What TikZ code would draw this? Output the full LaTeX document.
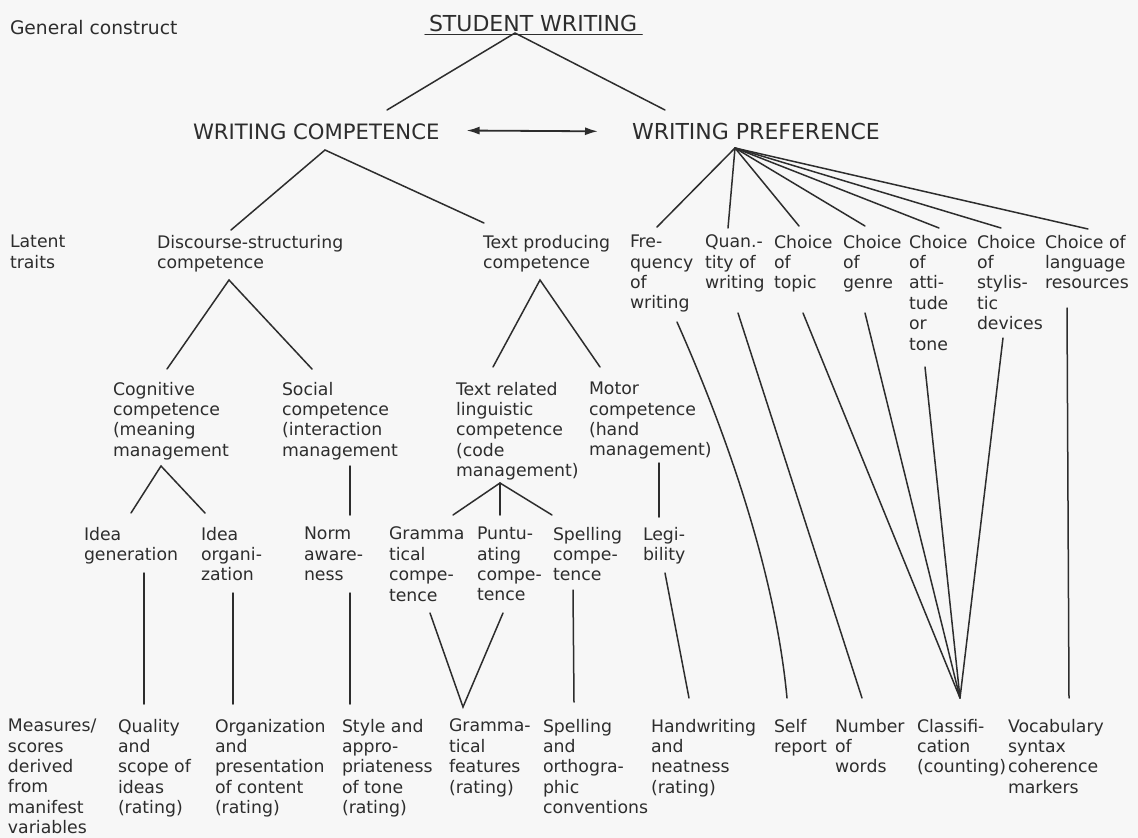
\documentclass[tikz,border=0pt]{standalone}
\usepackage{fontspec}
\setmainfont{DejaVu Sans}
\usetikzlibrary{arrows.meta,calc}
\definecolor{ink}{RGB}{45,45,45}
\definecolor{paper}{RGB}{247,247,247}
\newcommand{\bodyfont}{\fontsize{17.3}{20.4}\selectfont}
\begin{document}
\begin{tikzpicture}[x=1pt,y=-1pt,
  lbl/.style={anchor=north west,inner sep=0pt,outer sep=0pt,align=left,font=\bodyfont,text=ink},
  head/.style={anchor=north west,inner sep=0pt,outer sep=0pt,text=ink},
  conn/.style={draw=ink,line width=1.5pt,line cap=round}]
\fill[paper] (0,0) rectangle (1138,838);
\useasboundingbox (0,0) rectangle (1138,838);

% ---------- top level ----------
\node[lbl,font=\fontsize{18.7}{22}\selectfont] (gen) at (10,20) {General construct};
\node[head,font=\fontsize{22}{26}\selectfont] (sw) at (429,15) {STUDENT WRITING};
\node[head,font=\fontsize{21.2}{24}\selectfont] (wc) at (193,124) {WRITING COMPETENCE};
\node[head,font=\fontsize{22}{24}\selectfont] (wp) at (632,123) {WRITING PREFERENCE};

% ---------- latent traits ----------
\node[lbl] (lt) at (10,235) {Latent\\traits};
\node[lbl] (ds) at (157,235) {Discourse-structuring\\competence};
\node[lbl] (tp) at (483,235) {Text producing\\competence};
\node[lbl] (fr) at (630,235) {Fre-\\quency\\of\\writing};
\node[lbl] (qu) at (705,235) {Quan.-\\tity of\\writing};
\node[lbl] (ct) at (774,235) {Choice\\of\\topic};
\node[lbl] (cg) at (843,235) {Choice\\of\\genre};
\node[lbl] (ca) at (909,235) {Choice\\of\\atti-\\tude\\or\\tone};
\node[lbl] (cs) at (977,235) {Choice\\of\\stylis-\\tic\\devices};
\node[lbl] (cl) at (1045,235) {Choice of\\language\\resources};

\node[lbl] (cog) at (113,382) {Cognitive\\competence\\(meaning\\management};
\node[lbl] (soc) at (282,382) {Social\\competence\\(interaction\\management};
\node[lbl] (tr) at (456,382) {Text related\\linguistic\\competence\\(code\\management)};
\node[lbl] (mot) at (589,382) {Motor\\competence\\(hand\\management)};

\node[lbl] (ig) at (84,527) {Idea\\generation};
\node[lbl] (io) at (201,527) {Idea\\organi-\\zation};
\node[lbl] (na) at (304,527) {Norm\\aware-\\ness};
\node[lbl] (gcp) at (389,527) {Gramma\\tical\\compe-\\tence};
\node[lbl] (pcp) at (477,527) {Puntu-\\ating\\compe-\\tence};
\node[lbl] (scp) at (553,527) {Spelling\\compe-\\tence};
\node[lbl] (lg) at (643,527) {Legi-\\bility};

% ---------- manifest measures ----------
\node[lbl] (mv) at (8,719) {Measures/\\scores\\derived\\from\\manifest\\variables};
\node[lbl] (qs) at (118,719) {Quality\\and\\scope of\\ideas\\(rating)};
\node[lbl] (op) at (215,719) {Organization\\and\\presentation\\of content\\(rating)};
\node[lbl] (sa) at (342,719) {Style and\\appro-\\priateness\\of tone\\(rating)};
\node[lbl] (gf) at (449,719) {Gramma-\\tical\\features\\(rating)};
\node[lbl] (so) at (543,719) {Spelling\\and\\orthogra-\\phic\\conventions};
\node[lbl] (hn) at (651,719) {Handwriting\\and\\neatness\\(rating)};
\node[lbl] (sr) at (774,719) {Self\\report};
\node[lbl] (nw) at (835,719) {Number\\of\\words};
\node[lbl] (cc) at (917,719) {Classifi-\\cation\\(counting)};
\node[lbl] (vs) at (1008,719) {Vocabulary\\syntax\\coherence\\markers};

% ---------- junction / end coordinates ----------
\coordinate (swJ) at (515,33);
\coordinate (wcT) at (387,110);
\coordinate (wpT) at (665,110);
\coordinate (wcJ) at (325,150);
\coordinate (dsT) at (231,230);
\coordinate (tpT) at (484,223);
\coordinate (dsJ) at (229,280);
\coordinate (cogT) at (167,369);
\coordinate (socT) at (312,369);
\coordinate (tpJ) at (540,280);
\coordinate (trT) at (493,367);
\coordinate (motT) at (600,367);
\coordinate (cogJ) at (161,466);
\coordinate (igT) at (131,513);
\coordinate (ioT) at (205,513);
\coordinate (socB) at (350,466);
\coordinate (naT) at (350,515);
\coordinate (trJ) at (500,483);
\coordinate (gcT) at (453,515);
\coordinate (pcT) at (500,515);
\coordinate (scT) at (552,515);
\coordinate (motB) at (659,463);
\coordinate (lgT) at (659,517);
\coordinate (wpJ) at (735,148);
\coordinate (frT) at (657,227);
\coordinate (quT) at (728,228);
\coordinate (ctT) at (799,226);
\coordinate (cgT) at (865,226);
\coordinate (caT) at (939,228);
\coordinate (csT) at (1001,228);
\coordinate (clT) at (1088,229);

\coordinate (igB) at (144,573);
\coordinate (qsT) at (144,704);
\coordinate (ioB) at (233,593);
\coordinate (opT) at (233,704);
\coordinate (naB) at (350,593);
\coordinate (saT) at (350,704);
\coordinate (gcB) at (430,613);
\coordinate (pcB) at (503,613);
\coordinate (gfT) at (463,707);
\coordinate (scB) at (573,590);
\coordinate (soT) at (574,702);
\coordinate (lgB) at (665,573);
\coordinate (hnT) at (689,698);
\coordinate (frB) at (677,322);
\coordinate (srT) at (787,698);
\coordinate (quB) at (738,313);
\coordinate (nwT) at (862,698);
\coordinate (ctB) at (803,313);
\coordinate (cgB) at (865,313);
\coordinate (caB) at (925,367);
\coordinate (csB) at (1003,338);
\coordinate (ccT) at (960,698);
\coordinate (clB) at (1067,308);
\coordinate (vsT) at (1069,698);

% ---------- connectors ----------
\draw[conn,line width=1.2pt] ([yshift=-2.5pt,xshift=-4pt]sw.south west) -- ([yshift=-2.5pt,xshift=5pt]sw.south east);
\draw[conn] (wcT) -- (swJ) -- (wpT);
\draw[conn,line width=1.8pt,line cap=butt,{Latex[length=13pt,width=8pt]}-{Latex[length=13pt,width=8pt]}]
  ([xshift=27pt,yshift=1.5pt]wc.east) -- ([xshift=-34pt]wp.west);
\draw[conn] (dsT) -- (wcJ) -- (tpT);
\draw[conn] (cogT) -- (dsJ) -- (socT);
\draw[conn] (trT) -- (tpJ) -- (motT);
\draw[conn] (igT) -- (cogJ) -- (ioT);
\draw[conn] (socB) -- (naT);
\draw[conn] (gcT) -- (trJ) -- (scT);
\draw[conn] (trJ) -- (pcT);
\draw[conn] (motB) -- (lgT);
\foreach \t in {frT,quT,ctT,cgT,caT,csT,clT}{\draw[conn] (wpJ) -- (\t);}

\draw[conn] (igB) -- (qsT);
\draw[conn] (ioB) -- (opT);
\draw[conn] (naB) -- (saT);
\draw[conn] (gcB) -- (gfT) -- (pcB);
\draw[conn] (scB) -- (soT);
\draw[conn] (lgB) -- (hnT);
\draw[conn] (frB) .. controls (725,430) and (775,570) .. (srT);
\draw[conn] (quB) -- (nwT);
\foreach \s in {ctB,cgB,caB,csB}{\draw[conn] (\s) -- (ccT);}
\draw[conn] (clB) -- (vsT);
\end{tikzpicture}
\end{document}
